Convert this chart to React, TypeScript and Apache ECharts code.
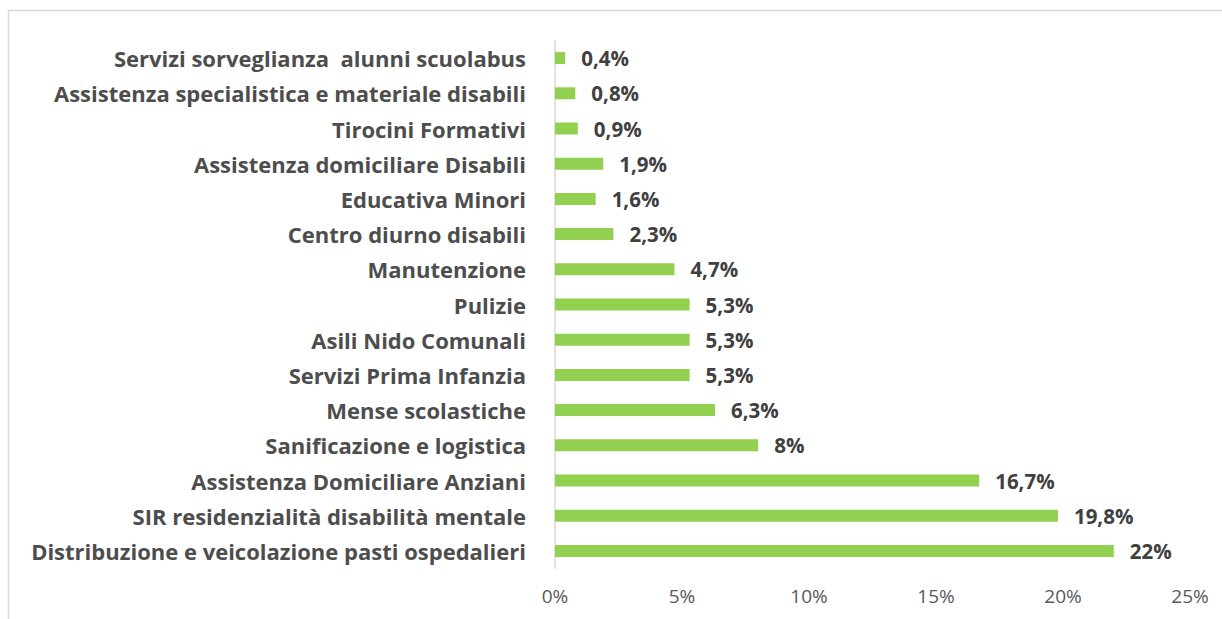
import React, { useEffect, useRef } from "react";
import * as echarts from "echarts";

const categories = [
  "Servizi sorveglianza\u00a0 alunni scuolabus",
  "Assistenza specialistica e materiale disabili",
  "Tirocini Formativi",
  "Assistenza domiciliare Disabili",
  "Educativa Minori",
  "Centro diurno disabili",
  "Manutenzione",
  "Pulizie",
  "Asili Nido Comunali",
  "Servizi Prima Infanzia",
  "Mense scolastiche",
  "Sanificazione e logistica",
  "Assistenza Domiciliare Anziani",
  "SIR residenzialità disabilità mentale",
  "Distribuzione e veicolazione pasti ospedalieri",
];
const values = [0.4, 0.8, 0.9, 1.9, 1.6, 2.3, 4.7, 5.3, 5.3, 5.3, 6.3, 8, 16.7, 19.8, 22];
const xTicks = [0, 5, 10, 15, 20, 25];

const fmt = (v: number) => String(v).replace(".", ",") + "%";

export default function App() {
  const ref = useRef<HTMLDivElement>(null);
  useEffect(() => {
    const chart = echarts.init(ref.current!, null, { renderer: "svg" });
    chart.setOption({
      animation: false,
      backgroundColor: "#ffffff",
      graphic: [
        {
          type: "rect",
          shape: { x: 8.5, y: 10.5, width: 1400, height: 800 },
          style: { fill: "none", stroke: "#d9d9d9", lineWidth: 1.5 },
          silent: true,
        },
      ],
      grid: { left: 555, right: 32, top: 40.5, bottom: 50.5, containLabel: false },
      xAxis: {
        type: "value",
        min: xTicks[0],
        max: xTicks[xTicks.length - 1],
        interval: 5,
        axisLine: { show: false },
        axisTick: { show: false },
        splitLine: { show: false },
        axisLabel: {
          formatter: (v: number) => v + "%",
          color: "#595959",
          fontSize: 19,
          fontFamily: "Open Sans",
          margin: 18,
        },
      },
      yAxis: {
        type: "category",
        data: categories,
        inverse: true,
        axisLine: { show: true, lineStyle: { color: "#d9d9d9", width: 1.5 } },
        axisTick: { show: false },
        axisLabel: {
          color: "#4d4d4d",
          fontSize: 22,
          fontWeight: "bold",
          fontFamily: "Open Sans",
          margin: 29,
        },
      },
      series: [
        {
          type: "bar",
          data: values,
          barWidth: 12,
          itemStyle: { color: "#92d050" },
          label: {
            show: true,
            position: "right",
            distance: 16,
            formatter: (p: any) => fmt(p.value),
            color: "#404040",
            fontSize: 20.5,
            fontWeight: "bold",
            fontFamily: "Open Sans",
          },
        },
      ],
    });
    return () => chart.dispose();
  }, []);
  return (
    <div
      ref={ref}
      style={{ position: "fixed", left: 0, top: 0, width: 1222, height: 619 }}
    />
  );
}
